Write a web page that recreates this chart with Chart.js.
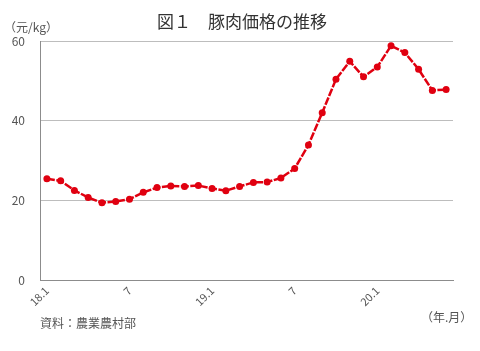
<!DOCTYPE html>
<html>
<head>
<meta charset="utf-8">
<script src="https://cdn.jsdelivr.net/npm/chart.js@4"></script>
<style>
  html, body { margin:0; padding:0; background:#fff; }
  #wrap { width:480px; height:351px; position:relative; }
</style>
</head>
<body>
<div id="wrap"><canvas id="porkChart" width="480" height="351"></canvas></div>
<script>
// months 18.1 .. 20.6
const months = [
  '18.1','18.2','18.3','18.4','18.5','18.6','18.7','18.8','18.9','18.10','18.11','18.12',
  '19.1','19.2','19.3','19.4','19.5','19.6','19.7','19.8','19.9','19.10','19.11','19.12',
  '20.1','20.2','20.3','20.4','20.5','20.6'
];
const tickLabels = [
  '18.1','','','','','','7','','','','','',
  '19.1','','','','','','7','','','','','',
  '20.1','','','','',''
];
const porkPrice = [
  25.4, 24.9, 22.5, 20.7, 19.4, 19.7, 20.3, 22.0, 23.2, 23.6, 23.5, 23.7,
  23.0, 22.4, 23.5, 24.5, 24.6, 25.6, 28.0, 33.9, 42.0, 50.4, 54.9, 51.0,
  53.5, 58.8, 57.1, 52.9, 47.6, 47.8
];
const yTicks = [0, 20, 40, 60];

const jpFont = '"Noto Sans CJK JP", "Noto Sans", sans-serif';

const textPlugin = {
  id: 'extraText',
  afterDraw(chart) {
    const c = chart.ctx;
    c.save();
    c.fillStyle = '#333';
    c.textBaseline = 'middle';
    c.font = '17px ' + jpFont;
    c.textAlign = 'center';
    c.fillText('図１　豚肉価格の推移', 242, 22);
    c.fillStyle = '#555';
    c.font = '12px ' + jpFont;
    c.textAlign = 'left';
    c.fillText('（元/kg）', 4, 27);
    c.fillText('資料：農業農村部', 40, 323);
    c.fillText('（年.月）', 421, 317);
    c.restore();
  }
};

new Chart(document.getElementById('porkChart').getContext('2d'), {
  type: 'line',
  data: {
    labels: months,
    datasets: [{
      label: '豚肉価格',
      data: porkPrice,
      borderColor: '#e00010',
      backgroundColor: '#e00010',
      borderWidth: 2.5,
      borderDash: [8, 1.5],
      pointRadius: 3.5,
      pointHoverRadius: 3.5,
      pointBorderWidth: 0,
      tension: 0
    }]
  },
  options: {
    responsive: false,
    animation: false,
    layout: { padding: { top: 41, right: 27, left: 0, bottom: 0 } },
    plugins: { legend: { display: false }, tooltip: { enabled: false }, title: { display: false } },
    scales: {
      x: {
        offset: true,
        grid: { display: false, drawTicks: false },
        border: { display: true, color: '#8c8c8c', width: 1 },
        afterFit(s) { s.height = 71; },
        ticks: {
          autoSkip: false,
          maxRotation: 45,
          minRotation: 45,
          padding: 4,
          color: '#555',
          font: { family: jpFont, size: 11 },
          callback: (v, i) => tickLabels[i]
        }
      },
      y: {
        min: 0,
        max: 60,
        afterFit(s) { s.width = 40; },
        afterBuildTicks(s) { s.ticks = yTicks.map(v => ({ value: v })); },
        grid: { color: '#bdbdbd', lineWidth: 1, drawTicks: false },
        border: { display: true, color: '#8c8c8c', width: 1 },
        ticks: {
          padding: 15,
          color: '#555',
          font: { family: jpFont, size: 12 }
        }
      }
    }
  },
  plugins: [textPlugin]
});
</script>
</body>
</html>
